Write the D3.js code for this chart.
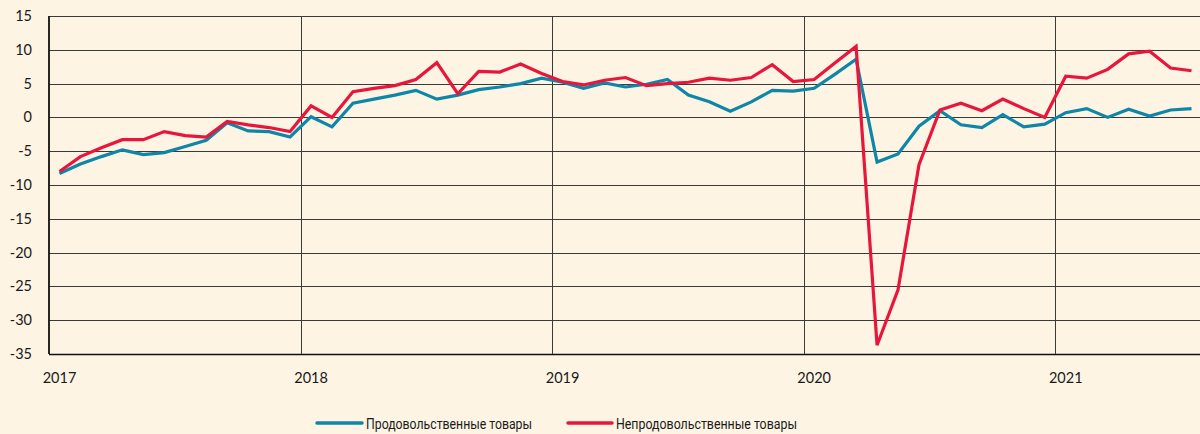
<!DOCTYPE html>
<html><head><meta charset="utf-8">
<script src="https://cdn.jsdelivr.net/npm/d3@7"></script>
<style>
html,body{margin:0;padding:0;background:#fdf4e4;}
svg{display:block;}
</style></head>
<body><svg id="c" width="1200" height="434"></svg>
<script>
const startYear = 2017;
const yearLabels = ["2017","2018","2019","2020","2021"];
const yTicks = [15,10,5,0,-5,-10,-15,-20,-25,-30,-35];
const seriesNames = ["Продовольственные товары","Непродовольственные товары"];
// monthly values, Jan 2017 .. Jul 2021
const food = [-8.3,-6.9,-5.8,-4.8,-5.5,-5.2,-4.3,-3.4,-0.8,-2.0,-2.1,-2.9,
  0.1,-1.4,2.1,2.7,3.3,4.0,2.7,3.3,4.1,4.5,5.0,5.8,
  5.2,4.3,5.1,4.5,4.9,5.6,3.3,2.3,0.9,2.3,4.0,3.9,
  4.3,6.4,8.6,-6.6,-5.4,-1.3,1.0,-1.1,-1.5,0.4,-1.4,-1.0,
  0.7,1.3,0.0,1.2,0.2,1.1,1.3];
const nonFood = [-8.0,-5.8,-4.5,-3.3,-3.3,-2.1,-2.7,-2.9,-0.6,-1.1,-1.5,-2.1,
  1.7,0.0,3.8,4.3,4.7,5.6,8.1,3.5,6.8,6.7,7.9,6.5,
  5.3,4.8,5.5,5.9,4.7,5.0,5.2,5.8,5.5,5.9,7.8,5.3,
  5.6,8.1,10.5,-33.7,-25.5,-7.0,1.1,2.1,1.0,2.7,1.3,0.0,
  6.1,5.8,7.1,9.4,9.8,7.3,6.9];
const colors = ["#0e86a8","#e8163a"];

(function(){
const svg = d3.select("#c");
const pL = 49, pR = 1202, pT = 16, pB = 354;
const x = d3.scaleLinear().domain([0, 55]).range([pL, pR]);
const y = d3.scaleLinear().domain([-35, 15]).range([pB, pT]);

const g = svg.append("g");
g.selectAll("line.h").data(yTicks).join("line")
  .attr("x1", pL).attr("x2", 1200)
  .attr("y1", d => Math.round(y(d)) + 0.5).attr("y2", d => Math.round(y(d)) + 0.5)
  .attr("stroke", d => d === -35 ? "#111" : "#3a3a3a")
  .attr("stroke-width", d => d === -35 ? 1.6 : 1);
g.selectAll("line.v").data(yearLabels.slice(1)).join("line")
  .attr("x1", (d,i) => Math.round(x((i+1)*12)) + 0.5)
  .attr("x2", (d,i) => Math.round(x((i+1)*12)) + 0.5)
  .attr("y1", pT).attr("y2", pB)
  .attr("stroke", "#3a3a3a").attr("stroke-width", 1);
g.append("line").attr("x1", pL).attr("x2", pL).attr("y1", pT).attr("y2", pB)
  .attr("stroke", "#111").attr("stroke-width", 1.8);

g.selectAll("text.y").data(yTicks).join("text")
  .attr("x", 32).attr("y", d => y(d) + 5)
  .attr("text-anchor", "end")
  .attr("font-family", "Lato, 'Open Sans', sans-serif").attr("font-size", 14.5)
  .attr("fill", "#1a1a1a").text(d => d);
g.selectAll("text.x").data(yearLabels).join("text")
  .attr("x", (d,i) => x(i*12 + 0.5))
  .attr("y", 383)
  .attr("text-anchor", "middle")
  .attr("font-family", "Lato, 'Open Sans', sans-serif").attr("font-size", 14.5)
  .attr("fill", "#1a1a1a").text(d => d);

const line = d3.line().x((d,i) => x(i + 0.5)).y(d => y(d));
[food, nonFood].forEach((s, k) => {
  g.append("path").datum(s).attr("d", line)
    .attr("fill", "none").attr("stroke", colors[k]).attr("stroke-width", 3.2)
    .attr("stroke-linejoin", "miter").attr("stroke-linecap", "butt");
});

const legX = [317, 568], legW = [45, 44], legT = [166, 181];
seriesNames.forEach((n, k) => {
  svg.append("line").attr("x1", legX[k]).attr("x2", legX[k] + legW[k])
    .attr("y1", 423).attr("y2", 423)
    .attr("stroke", colors[k]).attr("stroke-width", 3.5).attr("stroke-linecap", "round");
  svg.append("text").attr("x", legX[k] + legW[k] + 4).attr("y", 429)
    .attr("font-family", "Roboto, sans-serif").attr("font-size", 15.5)
    .attr("textLength", legT[k]).attr("lengthAdjust", "spacingAndGlyphs")
    .attr("fill", "#1a1a1a").text(n);
});
})();
</script></body></html>
